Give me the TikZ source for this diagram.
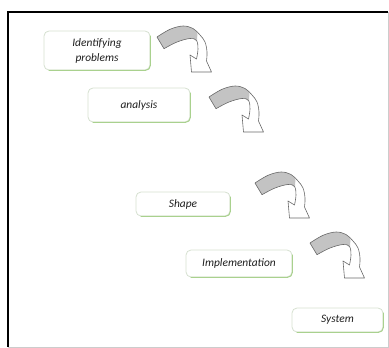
\documentclass[tikz,border=0pt]{standalone}
\usepackage{fontspec}
\setmainfont{Carlito}
\usetikzlibrary{positioning}

\definecolor{edgegreen}{RGB}{169,209,142}
\definecolor{edgepale}{RGB}{214,224,208}
\definecolor{bandgray}{RGB}{195,195,195}
\definecolor{linegray}{RGB}{105,105,105}

\def\bentshape{plot[smooth, tension=0.6] coordinates {(0,0) (13,-7.7) (26,-11) (36,-8.5) (43,-2) (48,5) (50,15) (49.5,24)}
  -- (54.5,35) -- (34.5,35) -- (33,18) -- (39.5,22)
  -- plot[smooth, tension=0.6] coordinates {(39.5,22) (41,12) (39.5,3.5) (33,1.5) (20,5) (7,11.7)} -- cycle}

\begin{document}
\begin{tikzpicture}[x=1pt, y=-1pt,
    stage/.style  = {draw=edgepale, line width=0.8pt, fill=white, rounded corners=5pt,
                     align=center, inner sep=0pt, text=black!88,
                     font=\fontsize{11.4}{15}\selectfont\itshape},
    greenedge/.style = {draw=edgegreen, line width=1pt, rounded corners=5pt},
    bentarrow/.pic = {
        \fill[white] \bentshape;
        \begin{scope}
            \clip \bentshape;
            \fill[bandgray] (-5,-15) -- (41,-15) -- (40,4) -- (-5,16) -- cycle;
        \end{scope}
        \draw[linegray, line width=0.6pt, line join=round] \bentshape;
    },
]
\useasboundingbox (0,0) rectangle (389,348);

% --- Marco ---
\draw[black!20, line width=0.5pt] (388,12) -- (388,347) -- (8,347);
\draw[line width=1.8pt] (8,347) -- (8,12) -- (388,12);

% --- Etapas ---
\node[stage, minimum width=106pt, minimum height=39pt] (ident)    at (97,50.5)  {Identifying\\problems};
\node[stage, minimum width=102pt, minimum height=34pt] (analysis) at (139,105)  {analysis};
\node[stage, minimum width=94pt,  minimum height=24pt] (shape)    at (183,204)  {Shape};
\node[stage, minimum width=106pt, minimum height=27pt] (impl)     at (239,263.5){Implementation};
\node[stage, minimum width=91pt,  minimum height=24pt] (system)   at (337.5,320){System};

% --- Bordes verdes ---
\draw[greenedge] ([yshift=-5pt]ident.north east)    -- (ident.south east)    -- ([xshift=5pt]ident.south west);
\draw[greenedge] ([yshift=-5pt]analysis.north east) -- (analysis.south east) -- ([xshift=5pt]analysis.south west);
\draw[greenedge] ([yshift=-5pt]shape.north east)    -- (shape.south east)    -- ([xshift=5pt]shape.south west);
\draw[greenedge] ([yshift=-5pt]impl.north east)     -- (impl.south east)     -- ([xshift=5pt]impl.south west);
\draw[greenedge] ([yshift=-5pt]system.north east)   -- (system.south east)   -- ([xshift=5pt]system.south west);

% --- Flechas curvas ---
\pic at (157,37)  {bentarrow};
\pic at (209,97)  {bentarrow};
\pic at (255,183) {bentarrow};
\pic at (310,243) {bentarrow};

\end{tikzpicture}
\end{document}
